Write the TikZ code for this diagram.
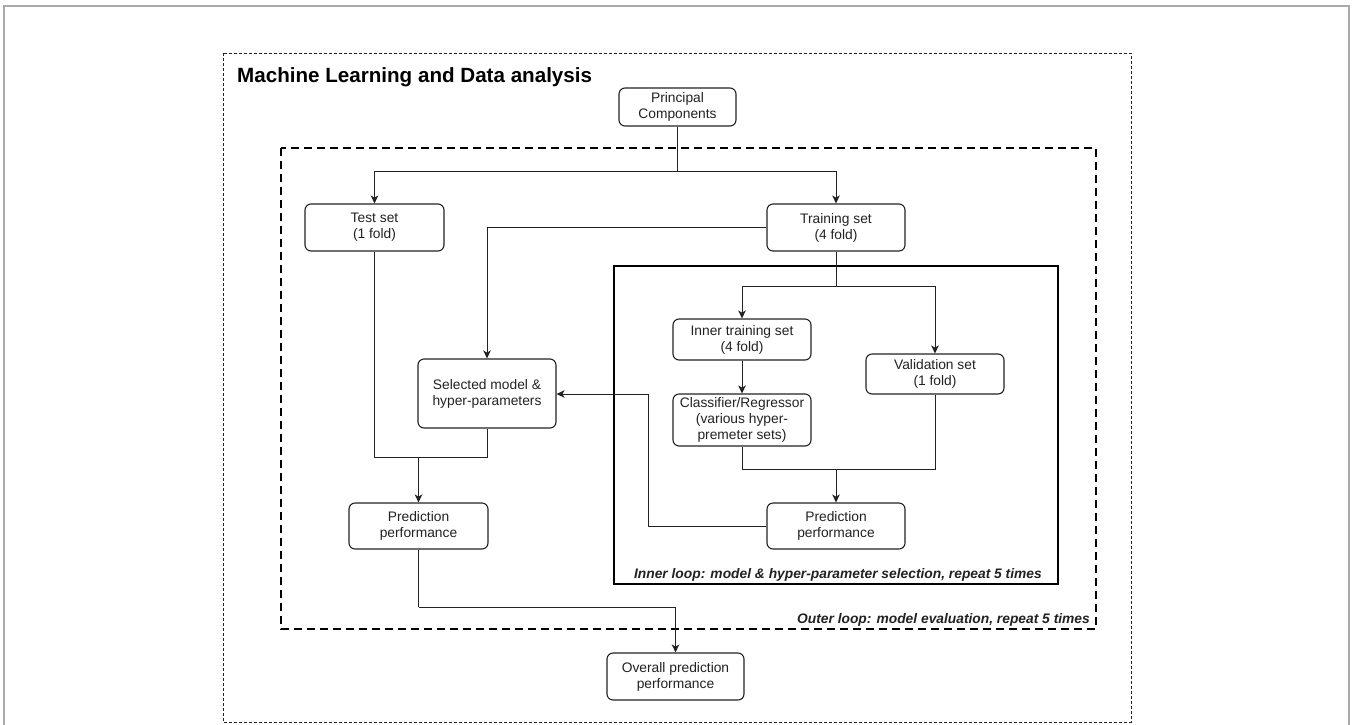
\documentclass[tikz,border=0pt]{standalone}
\usepackage{fontspec}
\setmainfont{Liberation Sans}
\usetikzlibrary{arrows.meta}
\definecolor{ink}{HTML}{222222}
\definecolor{edgegray}{HTML}{AAAAAA}
\begin{document}
\begin{tikzpicture}[x=1pt,y=-1pt,
  box/.style={draw=ink, line width=1.1pt, rounded corners=6pt, align=center,
    inner sep=0pt, font=\fontsize{13.8}{16}\selectfont, text=ink},
  conn/.style={draw=ink, line width=0.9pt},
  arr/.style={conn, -{Stealth[length=8pt,width=7.5pt,inset=2.2pt]}},
  looplabel/.style={font=\fontsize{13.8}{16}\selectfont\bfseries\itshape, text=ink, inner sep=0pt},
]
\useasboundingbox (0,0) rectangle (1352,724);
\fill[white] (0,0) rectangle (1352,724);
% image border
\draw[edgegray, line width=1.4pt] (4,740) -- (4,6) -- (1349,6) -- (1349,740);
% frames
\draw[ink, line width=0.9pt, dash pattern=on 3pt off 2pt] (223,53) rectangle (1131,722);
\draw[black, line width=2pt, dash pattern=on 8pt off 5pt] (281,148) rectangle (1096,629);
\draw[black, line width=2.2pt] (614,266) rectangle (1058,584);
% labels
\node[anchor=base west, inner sep=0pt, text=black, font=\fontsize{20.6}{24}\selectfont\bfseries] (title) at (237,82) {Machine Learning and Data analysis};
\node[looplabel, anchor=base east] (innerlab) at (1042,578) {Inner loop: model \& hyper-parameter selection, repeat 5 times};
\node[looplabel, anchor=base east] (outerlab) at (1090,623) {Outer loop: model evaluation, repeat 5 times};
% nodes
\node[box, minimum width=117pt, minimum height=38pt] (pc) at (677.5,107) {Principal\\Components};
\node[box, minimum width=139pt, minimum height=47pt] (test) at (374.5,227.5) {Test set\\(1 fold)};
\node[box, minimum width=138pt, minimum height=47pt] (train) at (836,227.5) {Training set\\(4 fold)};
\node[box, minimum width=138pt, minimum height=69pt] (sel) at (487,393.5) {Selected model \&\\hyper-parameters};
\node[box, minimum width=138pt, minimum height=41pt] (itrain) at (742,339.5) {Inner training set\\(4 fold)};
\node[box, minimum width=138pt, minimum height=40pt] (valid) at (935,374) {Validation set\\(1 fold)};
\node[box, minimum width=138pt, minimum height=52pt] (clf) at (742,420) {Classifier/Regressor\\(various hyper-\\premeter sets)};
\node[box, minimum width=138pt, minimum height=46pt] (ipred) at (836,526) {Prediction\\performance};
\node[box, minimum width=139pt, minimum height=46pt] (pred) at (418.5,526) {Prediction\\performance};
\node[box, minimum width=137pt, minimum height=47pt] (overall) at (675.5,676.5) {Overall prediction\\performance};
% junction coordinates
\coordinate (j1) at (677.5,171);
\coordinate (j2) at (836,286);
\coordinate (j3) at (836,469);
\coordinate (fb) at (648,394);
\coordinate (j4) at (487,457);
\coordinate (j5) at (418.5,457);
\coordinate (j6) at (418.5,607);
% connectors
\draw[conn] (pc.south) -- (j1);
\draw[arr] (j1) -| (test.north);
\draw[arr] (j1) -| (train.north);
\draw[arr] (train.west) -| (sel.north);
\draw[conn] (train.south) -- (j2);
\draw[arr] (j2) -| (itrain.north);
\draw[arr] (j2) -| (valid.north);
\draw[arr] (itrain.south) -- (clf.north);
\draw[conn] (clf.south) |- (j3);
\draw[conn] (valid.south) |- (j3);
\draw[arr] (j3) -- (ipred.north);
\draw[arr] (ipred.west) -| (fb) -- (sel.east |- fb);
\draw[conn] (test.south) |- (j4) -- (sel.south);
\draw[arr] (j5) -- (pred.north);
\draw[conn] (pred.south) -- (j6);
\draw[arr] (j6) -| (overall.north);
\end{tikzpicture}
\end{document}
